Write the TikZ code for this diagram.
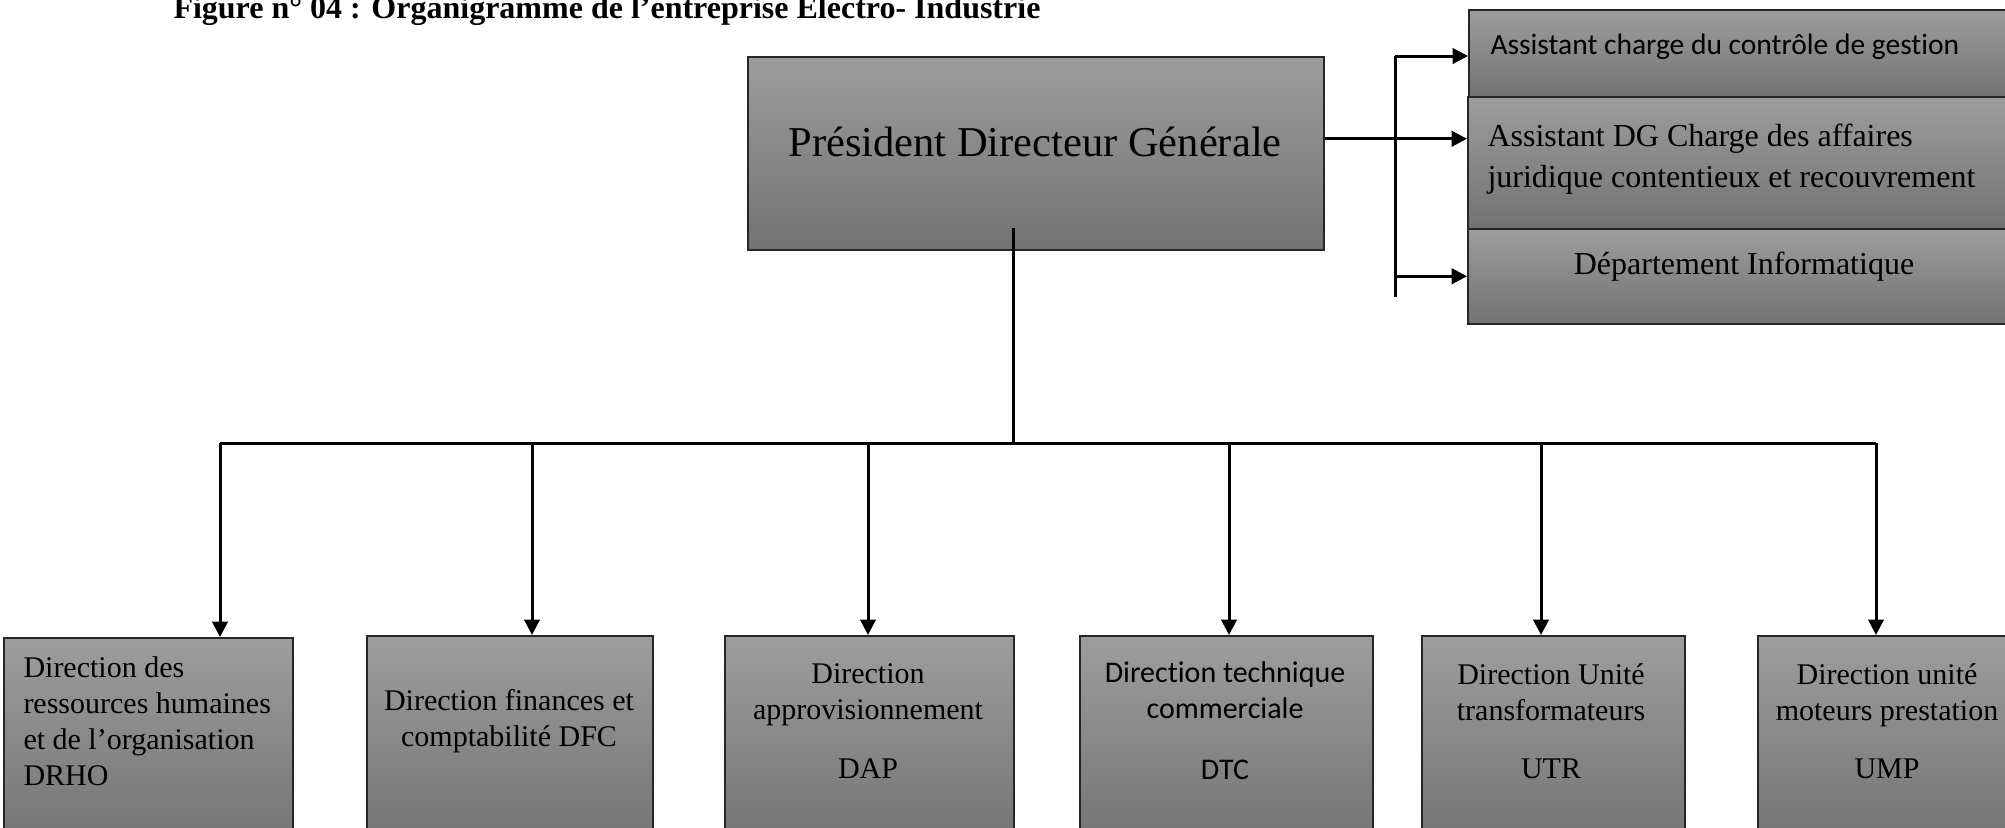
\documentclass[tikz,border=0pt]{standalone}
\usepackage{fontspec}
\setmainfont{Liberation Serif}
\newfontfamily\calibri[Ligatures=NoCommon]{Carlito}
\usetikzlibrary{arrows.meta}

\definecolor{boxtop}{RGB}{157,157,157}
\definecolor{boxbot}{RGB}{114,114,114}

\begin{document}
\begin{tikzpicture}[x=0.4pt, y=-0.4pt,
        box/.style = {shape=rectangle, draw=black!85, line width=0.6pt,
        anchor=north west, inner sep=0pt,
        top color=boxtop, bottom color=boxbot},
        txt/.style = {inner sep=0pt, align=center,
        font=\fontsize{12}{14.4}\selectfont},
        arrow/.style = {-{Triangle[length=6.2pt,width=6.2pt]}, line width=1.2pt}]
    \useasboundingbox (0,0) rectangle (2005,827);
    \clip (0,0) rectangle (2005,827);

    \node[anchor=base west, inner sep=0pt, font=\bfseries\fontsize{12.8}{15}\selectfont]
        (title) at (173,18) {Figure n° 04 : Organigramme de l’entreprise Electro- Industrie};

    \node[box, minimum width=230.4pt, minimum height=77.2pt] (pdg) at (747,56) {};
    \node[txt, font=\fontsize{17}{20}\selectfont] (pdg txt) at (1035,142)
        {Président Directeur Générale};

    \node[box, minimum width=222.8pt, minimum height=34.8pt] (acg) at (1468,9) {};
    \node[box, minimum width=223.2pt, minimum height=52.8pt] (ajc) at (1467,96) {};
    \node[box, minimum width=223.2pt, minimum height=38pt] (dinfo) at (1467,228) {};
    \node[txt, anchor=west, font=\calibri\fontsize{11.8}{14}\selectfont] (acg txt) at (1490,47)
        {Assistant charge du contrôle de gestion};
    \node[txt, anchor=west, align=left, font=\fontsize{12.8}{16.4}\selectfont] (ajc txt) at (1487,159)
        {Assistant DG Charge des affaires\\ juridique contentieux et recouvrement};
    \node[txt, font=\fontsize{12.8}{15}\selectfont] (dinfo txt) at (1744,267)
        {Département Informatique};

    \node[box, minimum width=115.6pt, minimum height=86pt] (drho) at (3,637) {};
    \node[box, minimum width=114.4pt, minimum height=86pt] (dfc) at (366,635) {};
    \node[box, minimum width=115.6pt, minimum height=86pt] (dap) at (724,635) {};
    \node[box, minimum width=117.2pt, minimum height=86pt] (dtc) at (1079,635) {};
    \node[box, minimum width=105.2pt, minimum height=86pt] (utr) at (1421,635) {};
    \node[box, minimum width=104pt, minimum height=86pt] (ump) at (1757,635) {};

    \node[txt, anchor=west, align=left] (drho txt) at (23,721)
        {Direction des\\ ressources humaines\\ et de l’organisation\\ DRHO};
    \node[txt] (dfc txt) at (509,721) {Direction finances et\\ comptabilité DFC};
    \node[txt] (dap txt) at (868,721) {Direction\\ approvisionnement\\[9pt] DAP};
    \node[txt, font=\calibri\fontsize{12}{14.4}\selectfont] (dtc txt) at (1225,721)
        {Direction technique\\ commerciale\\[10pt] DTC};
    \node[txt] (utr txt) at (1551,721) {Direction Unité\\ transformateurs\\[9pt] UTR};
    \node[txt] (ump txt) at (1887,721) {Direction unité\\ moteurs prestation\\[9pt] UMP};

    \coordinate (trunk) at (1013,228);
    \coordinate (hub) at (1013,443);
    \coordinate (b1) at (220,443);
    \coordinate (b2) at (532,443);
    \coordinate (b3) at (868,443);
    \coordinate (b4) at (1229,443);
    \coordinate (b5) at (1541,443);
    \coordinate (b6) at (1876,443);
    \draw[line width=1.2pt] (trunk) -- (hub);
    \draw[line width=1.2pt] (b1) -- (b6);
    \draw[arrow] (b1) -- (b1 |- drho.north);
    \draw[arrow] (b2) -- (b2 |- dfc.north);
    \draw[arrow] (b3) -- (b3 |- dap.north);
    \draw[arrow] (b4) -- (b4 |- dtc.north);
    \draw[arrow] (b5) -- (b5 |- utr.north);
    \draw[arrow] (b6) -- (b6 |- ump.north);

    \coordinate (rtop) at (1395,56);
    \coordinate (rbot) at (1395,297);
    \draw[line width=1.2pt] (rtop) -- (rbot);
    \draw[arrow] (rtop) -- (rtop -| acg.west);
    \draw[arrow] ([yshift=5.8pt]pdg.east) -- ([yshift=5.8pt]pdg.east -| ajc.west);
    \draw[arrow] (rtop |- dinfo.west) -- (dinfo.west);
\end{tikzpicture}
\end{document}
